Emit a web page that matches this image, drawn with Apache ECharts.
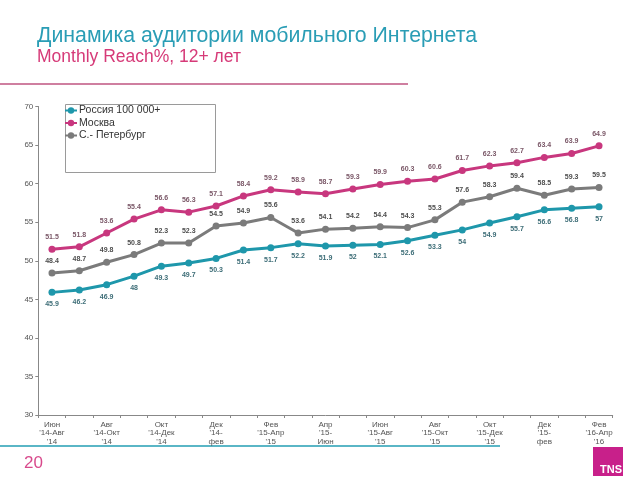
<!DOCTYPE html>
<html>
<head>
<meta charset="utf-8">
<script src="https://cdn.jsdelivr.net/npm/echarts@6/dist/echarts.min.js"></script>
<style>html,body{margin:0;padding:0;background:#fff;}#c{width:640px;height:480px;}</style>
</head>
<body>
<div id="c"></div>
<script>
var categories = [
  "Июн\n'14-Авг\n'14", "Июл\n'14-Сен\n'14", "Авг\n'14-Окт\n'14", "Сен\n'14-Ноя\n'14",
  "Окт\n'14-Дек\n'14", "Ноя\n'14-\nянв", "Дек\n'14-\nфев", "Янв\n'15-Мар\n'15",
  "Фев\n'15-Апр\n'15", "Мар\n'15-Май\n'15", "Апр\n'15-\nИюн", "Май\n'15-\nИюл",
  "Июн\n'15-Авг\n'15", "Июл\n'15-Сен\n'15", "Авг\n'15-Окт\n'15", "Сен\n'15-Ноя\n'15",
  "Окт\n'15-Дек\n'15", "Ноя\n'15-\nянв", "Дек\n'15-\nфев", "Янв\n'16-Мар\n'16",
  "Фев\n'16-Апр\n'16"
];
var russia = [45.9, 46.2, 46.9, 48, 49.3, 49.7, 50.3, 51.4, 51.7, 52.2, 51.9, 52, 52.1, 52.6, 53.3, 54, 54.9, 55.7, 56.6, 56.8, 57];
var moscow = [51.5, 51.8, 53.6, 55.4, 56.6, 56.3, 57.1, 58.4, 59.2, 58.9, 58.7, 59.3, 59.9, 60.3, 60.6, 61.7, 62.3, 62.7, 63.4, 63.9, 64.9];
var spb = [48.4, 48.7, 49.8, 50.8, 52.3, 52.3, 54.5, 54.9, 55.6, 53.6, 54.1, 54.2, 54.4, 54.3, 55.3, 57.6, 58.3, 59.4, 58.5, 59.3, 59.5];
var seriesNames = ["Россия 100 000+", "Москва", "С.- Петербург"];
var yTicks = [30, 35, 40, 45, 50, 55, 60, 65, 70];

var chart = echarts.init(document.getElementById('c'));
function mkSeries(name, data, color, labelColor, pos) {
  return {
    name: name, type: 'line', data: data,
    symbol: 'circle', symbolSize: 7,
    lineStyle: {width: 3, color: color},
    itemStyle: {color: color},
    label: {show: true, position: pos, distance: 5, fontSize: 7, fontWeight: 'bold',
            color: labelColor, fontFamily: 'Liberation Sans'},
    z: 3
  };
}
chart.setOption({
  animation: false,
  backgroundColor: '#fff',
  title: {
    text: 'Динамика аудитории мобильного Интернета',
    subtext: 'Monthly Reach%, 12+ лет',
    left: 37, top: 26, itemGap: 1, padding: 0,
    textStyle: {fontFamily: 'Liberation Sans', fontSize: 21.3, fontWeight: 'normal', color: '#2a9db5'},
    subtextStyle: {fontFamily: 'Liberation Sans', fontSize: 17.5, color: '#d63a78'}
  },
  legend: {
    orient: 'vertical', left: 64, top: 105, padding: 0, itemGap: 1.5,
    itemWidth: 12, itemHeight: 8,
    textStyle: {fontFamily: 'Liberation Sans', fontSize: 10.5, color: '#333', padding: [0,0,0,-3]},
    data: seriesNames
  },
  grid: {left: 38.3, right: 27.3, top: 106.5, bottom: 65, containLabel: false},
  xAxis: {
    type: 'category', data: categories, boundaryGap: true,
    axisLine: {lineStyle: {color: '#888', width: 1}},
    axisTick: {show: true, length: 3, lineStyle: {color: '#888'}, interval: 0},
    axisLabel: {interval: 1, fontSize: 8, color: '#555', lineHeight: 8.7, margin: 5,
                fontFamily: 'Liberation Sans'}
  },
  yAxis: {
    type: 'value', min: yTicks[0], max: yTicks[yTicks.length - 1], interval: 5,
    splitLine: {show: false},
    axisLine: {show: true, lineStyle: {color: '#888', width: 1}},
    axisTick: {show: true, length: 3, lineStyle: {color: '#888'}},
    axisLabel: {fontSize: 8, color: '#555', margin: 5, fontFamily: 'Liberation Sans'}
  },
  series: [
    mkSeries(seriesNames[0], russia, '#1e97ab', '#3d6d77', 'bottom'),
    mkSeries(seriesNames[1], moscow, '#c8377e', '#7a5767', 'top'),
    mkSeries(seriesNames[2], spb, '#7b7b7b', '#4d4d4d', 'top')
  ],
  graphic: [
    {type: 'rect', shape: {x: 65.5, y: 104.5, width: 150, height: 68}, z: 1,
     style: {fill: '#fff', stroke: '#9a9a9a', lineWidth: 1}},
    {type: 'line', shape: {x1: 0, y1: 84, x2: 408, y2: 84}, style: {stroke: '#cf7fa0', lineWidth: 2}},
    {type: 'line', shape: {x1: 0, y1: 446, x2: 500, y2: 446}, style: {stroke: '#5ab6c6', lineWidth: 2}},
    {type: 'text', x: 24, y: 455, style: {text: '20', fontSize: 17, fill: '#d84a8c', fontFamily: 'Liberation Sans'}},
    {type: 'rect', shape: {x: 593, y: 447, width: 30, height: 29}, style: {fill: '#c8208a'}},
    {type: 'text', x: 622, y: 475, style: {text: 'TNS', fontSize: 11, fontWeight: 'bold', fill: '#fff',
      align: 'right', verticalAlign: 'bottom', fontFamily: 'Liberation Sans'}}
  ]
});
</script>
</body>
</html>
